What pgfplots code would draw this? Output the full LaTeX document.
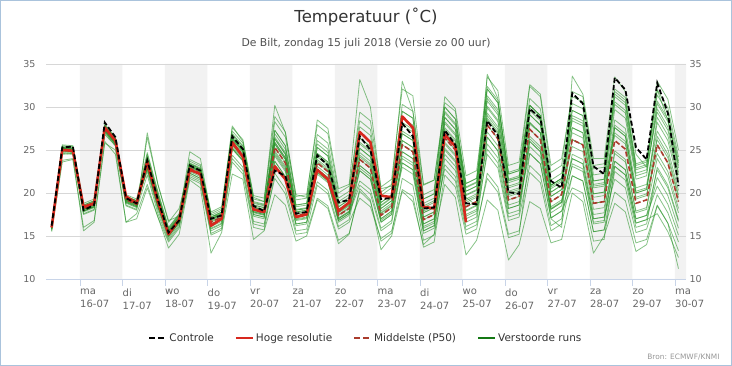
\documentclass[border=0pt]{standalone}
\usepackage{fontspec}
\setmainfont{DejaVu Sans}
\usepackage{pgfplots}
\usepackage{pgfplotstable}
\pgfplotsset{compat=1.18}
\definecolor{framecol}{RGB}{170,195,220}
\definecolor{titlecol}{RGB}{51,51,51}
\definecolor{subcol}{RGB}{80,80,80}
\definecolor{labcol}{RGB}{102,102,102}
\definecolor{broncol}{RGB}{150,150,150}
\definecolor{gridcol}{RGB}{215,215,215}
\definecolor{axiscol}{RGB}{200,212,232}
\definecolor{bandcol}{RGB}{242,242,242}
\definecolor{ensgreen}{RGB}{35,145,35}
\definecolor{legendgreen}{RGB}{20,120,20}
\definecolor{hrescol}{RGB}{215,40,30}
\definecolor{medcol}{RGB}{170,60,45}
\pgfplotsset{
  ens/.style={color=ensgreen, line width=0.8pt, opacity=0.55, forget plot, mark=none, line join=round},
  frame/.style={at={(46pt,87pt)}, anchor=south west, scale only axis, width=640pt, height=215pt,
    xmin=0.2, xmax=15.26, ymin=10, ymax=35},
}
\pgfplotstableread{
x ctrl hres med e1 e2 e3 e4 e5 e6 e7 e8 e9 e10 e11 e12 e13 e14 e15 e16 e17 e18 e19 e20 e21 e22 e23 e24
0.333 16.2 16.0 16.0 16.2 15.7 16.1 15.9 16.3 15.8 16.0 16.1 15.9 16.2 15.8 16.0 16.0 16.1 15.8 15.6 16.0 15.5 16.1 15.9 16.0 15.8 16.1 16.0
0.583 25.3 25.0 25.1 25.4 24.8 25.2 25.0 25.6 24.6 25.1 25.3 24.9 25.5 24.7 25.2 25.0 25.3 24.9 23.8 24.5 23.6 25.3 25.0 25.2 24.9 25.2 25.1
0.833 25.4 24.9 25.0 25.3 24.7 25.1 24.9 25.5 24.5 25.0 25.2 24.8 25.4 24.6 25.1 24.9 25.2 24.8 24.0 24.6 23.9 25.2 24.9 25.1 24.8 25.1 25.0
1.083 18.0 18.4 18.2 18.6 17.9 18.3 18.1 18.8 17.6 18.2 18.4 18.0 18.6 17.8 18.3 18.1 18.5 17.9 16.0 17.5 15.6 18.4 18.1 18.3 17.9 18.3 18.2
1.333 18.6 18.8 18.7 19.1 18.4 18.8 18.6 19.3 18.1 18.7 18.9 18.5 19.1 18.3 18.8 18.6 19.0 18.4 16.8 18.0 16.6 18.9 18.6 18.8 18.4 18.8 18.7
1.583 28.2 27.6 27.5 28.0 27.0 27.7 27.3 27.8 27.2 27.6 27.5 27.8 27.7 27.4 27.2 27.5 27.9 27.1 26.0 26.8 25.8 27.6 27.3 27.7 27.4 27.5 27.6
1.833 26.5 26.1 26.0 26.5 25.5 26.2 25.8 26.3 25.7 26.1 26.0 26.3 26.2 25.9 25.7 26.0 26.4 25.6 24.5 25.5 25.0 26.1 25.8 26.2 25.9 26.0 26.1
2.083 19.4 19.6 19.2 19.8 18.6 19.4 19.0 19.6 18.9 19.3 19.2 19.6 19.5 19.1 18.9 19.2 19.6 18.8 16.6 18.5 16.6 19.3 19.0 19.5 19.1 19.2 19.3
2.333 18.8 18.8 18.7 19.3 18.1 18.9 18.5 19.1 18.4 18.8 18.7 19.1 19.0 18.6 18.4 18.7 19.1 18.3 17.0 18.0 17.6 18.8 18.5 19.0 18.6 18.7 18.8
2.583 23.8 23.6 23.5 24.7 22.1 24.1 22.9 23.9 23.7 23.1 24.5 22.5 23.5 24.1 23.3 23.9 22.9 26.5 20.6 27.0 21.0 24.0 23.0 23.7 22.8 24.3 23.3
2.833 19.2 19.0 19.0 20.2 17.6 19.6 18.4 19.4 19.2 18.6 20.0 18.0 19.0 19.6 18.8 19.4 18.4 21.0 17.2 21.0 17.2 19.5 18.5 19.2 18.3 19.8 18.8
3.083 15.4 15.2 15.3 16.0 14.5 15.6 15.0 15.5 15.4 15.1 15.9 14.7 15.3 15.7 15.2 15.5 15.0 16.6 14.3 16.8 13.6 15.6 15.0 15.4 14.9 15.8 15.2
3.333 16.8 16.9 16.9 17.6 16.1 17.2 16.6 17.1 17.0 16.7 17.5 16.3 16.9 17.3 16.8 17.1 16.6 18.2 15.9 17.3 15.2 17.2 16.6 17.0 16.5 17.4 16.8
3.583 23.2 22.7 22.9 23.9 21.7 23.1 22.7 23.4 23.3 22.3 23.7 22.5 23.1 22.7 23.5 22.1 22.9 23.2 21.9 24.8 21.5 23.1 22.7 23.4 22.3 23.0 23.2
3.833 22.6 22.2 22.3 23.3 21.1 22.5 22.1 22.8 22.7 21.7 23.1 21.9 22.5 22.1 22.9 21.5 22.3 22.6 21.3 24.0 20.6 22.5 22.1 22.8 21.7 22.4 22.6
4.083 17.0 16.2 16.6 17.8 15.1 16.8 16.4 17.2 17.1 15.8 17.6 16.1 16.9 16.4 17.4 15.6 16.6 17.0 15.3 17.5 13.0 16.9 16.3 17.2 15.9 16.7 17.0
4.333 17.4 17.0 17.2 18.4 15.7 17.4 17.0 17.8 17.7 16.4 18.2 16.7 17.5 17.0 18.0 16.2 17.2 17.6 15.9 17.2 15.4 17.5 16.9 17.8 16.5 17.3 17.6
4.583 26.6 25.9 25.8 27.6 23.6 25.4 26.2 26.9 26.0 24.4 26.8 25.8 26.4 25.1 27.2 25.2 26.3 25.6 24.0 27.8 22.2 26.4 25.2 26.2 25.6 25.7 26.6
4.833 25.1 24.2 24.4 26.2 22.2 24.0 24.8 25.5 24.6 23.0 25.4 24.4 25.0 23.7 25.8 23.8 24.9 24.2 22.6 26.0 21.6 25.0 23.8 24.8 24.2 24.3 25.2
5.083 18.5 18.1 18.0 19.7 16.0 17.7 18.3 19.0 18.2 16.7 18.9 18.0 18.6 17.3 19.3 17.5 18.4 17.8 16.4 19.5 14.6 18.6 17.5 18.3 17.8 17.9 18.8
5.333 17.9 17.8 17.7 19.4 15.7 17.4 18.0 18.7 17.9 16.4 18.6 17.7 18.3 17.0 19.0 17.2 18.1 17.5 16.1 19.0 15.6 18.3 17.2 18.0 17.5 17.6 18.5
5.583 22.6 23.1 25.3 28.9 22.3 23.7 26.9 26.3 25.3 21.7 25.9 26.3 27.3 24.7 28.3 25.7 24.3 27.3 23.3 30.2 19.8 26.5 24.5 25.7 23.7 25.9 24.9
5.833 22.0 21.6 23.5 27.1 20.5 21.9 25.1 24.5 23.5 19.9 24.1 24.5 25.5 22.9 26.5 23.9 22.5 25.5 21.5 27.0 18.6 24.7 22.7 23.9 21.9 24.1 23.1
6.083 17.6 17.2 17.4 19.6 15.6 16.4 18.4 18.0 17.4 15.2 17.8 18.0 18.6 17.0 19.2 17.6 16.8 18.6 16.2 19.8 14.4 18.1 16.9 17.6 16.4 17.8 17.2
6.333 17.8 17.5 17.6 19.8 15.8 16.6 18.6 18.2 17.6 15.4 18.0 18.2 18.8 17.2 19.4 17.8 17.0 18.8 16.4 19.5 15.0 18.3 17.1 17.8 16.6 18.0 17.4
6.583 24.4 22.7 23.5 27.9 20.9 21.3 26.1 23.5 24.2 19.4 22.8 25.3 24.6 23.9 25.7 22.4 24.6 26.8 22.4 28.5 19.2 24.4 22.2 25.3 22.8 23.1 23.7
6.833 23.2 21.6 22.5 26.9 19.9 20.3 25.1 22.5 23.2 18.5 21.8 24.3 23.6 22.9 24.7 21.4 23.6 25.8 21.4 27.5 18.2 23.4 21.2 24.3 21.8 22.1 22.7
7.083 18.9 17.9 17.4 20.0 15.8 16.1 19.0 17.4 17.8 14.5 17.0 18.4 18.1 17.7 18.7 16.8 18.1 19.4 16.8 20.5 14.1 17.9 16.6 18.4 17.0 17.1 17.5
7.333 19.2 18.9 18.2 20.8 16.6 16.9 19.8 18.2 18.6 15.3 17.8 19.2 18.9 18.5 19.5 17.6 18.9 20.2 17.6 21.0 15.2 18.7 17.4 19.2 17.8 17.9 18.3
7.583 26.6 27.1 23.9 28.4 19.4 22.6 27.7 22.6 25.9 20.2 24.4 24.7 26.4 23.2 25.2 20.9 26.4 29.4 23.9 33.2 20.5 25.7 22.9 25.2 21.4 24.2 23.2
7.833 25.0 25.9 22.9 27.4 18.4 21.6 26.7 21.6 24.9 19.0 23.4 23.7 25.4 22.2 24.2 19.9 25.4 28.4 22.9 30.0 19.2 24.7 21.9 24.2 20.4 23.2 22.2
8.083 19.3 19.7 17.4 20.1 14.7 16.6 19.7 16.6 18.6 14.4 17.7 17.9 18.9 17.0 18.2 15.6 18.9 20.7 17.4 20.5 13.4 18.5 16.8 18.2 15.9 17.6 17.0
8.333 19.4 19.5 18.3 21.0 15.6 17.5 20.6 17.5 19.5 15.3 18.6 18.8 19.8 17.9 19.1 16.5 19.8 21.6 18.3 20.8 15.0 19.4 17.7 19.1 16.8 18.5 17.9
8.583 28.1 28.9 25.6 29.5 20.4 26.1 28.2 23.0 29.5 21.7 26.9 24.3 30.3 23.5 25.6 23.5 26.9 32.1 24.8 33.0 20.2 27.9 24.8 27.2 24.0 28.7 26.1
8.833 26.6 27.6 24.8 28.7 19.6 25.3 27.4 22.2 28.7 20.9 26.1 23.5 29.5 22.7 24.8 22.7 26.1 31.3 24.0 29.5 19.0 27.1 24.0 26.4 23.2 27.9 25.3
9.083 18.2 18.4 16.9 19.3 13.7 17.2 18.5 15.3 19.3 14.5 17.7 16.1 19.8 15.6 16.9 15.6 17.7 20.9 16.4 21.0 14.0 18.3 16.4 17.9 15.9 18.8 17.2
9.333 18.3 18.2 17.5 19.9 14.3 17.8 19.1 15.9 19.9 15.1 18.3 16.7 20.4 16.2 17.5 16.2 18.3 21.5 17.0 21.5 15.2 18.9 17.0 18.5 16.5 19.4 17.8
9.583 27.3 26.8 26.4 29.3 22.1 28.3 27.6 23.3 31.2 24.0 27.1 24.5 30.0 26.4 25.2 25.9 28.8 30.0 22.8 30.5 21.0 28.8 25.0 27.4 25.7 28.1 29.5
9.833 25.6 25.4 25.0 27.9 20.7 26.9 26.2 21.9 29.8 22.6 25.7 23.1 28.6 25.0 23.8 24.5 27.4 28.6 21.4 29.5 19.5 27.4 23.6 26.0 24.3 26.7 28.1
10.083 18.8 16.6 18.4 20.6 15.2 19.8 19.3 16.1 22.0 16.6 18.9 17.0 21.1 18.4 17.5 18.0 20.2 21.1 15.7 19.5 12.8 20.2 17.3 19.1 17.9 19.7 20.7
10.333 18.7 nan 19.0 21.2 15.8 20.4 19.9 16.7 22.6 17.2 19.5 17.6 21.7 19.0 18.1 18.6 20.8 21.7 16.3 18.5 14.5 20.8 17.9 19.7 18.5 20.3 21.3
10.583 28.4 nan 27.9 32.1 22.3 31.3 27.9 25.1 32.1 26.5 27.1 24.5 33.5 29.3 28.5 28.7 30.1 30.7 21.7 33.8 19.2 31.0 26.5 29.9 25.7 29.0 32.4
10.833 26.7 nan 26.3 30.5 20.7 29.7 26.3 23.5 30.5 24.9 25.5 22.9 31.9 27.7 26.9 27.1 28.5 29.1 20.1 31.0 18.0 29.4 24.9 28.3 24.1 27.4 30.8
11.083 20.1 nan 19.2 22.2 15.2 21.6 19.2 17.2 22.2 18.2 18.6 16.8 23.2 20.2 19.6 19.8 20.8 21.2 14.8 21.5 12.2 21.4 18.2 20.6 17.6 20.0 22.4
11.333 19.9 nan 19.6 22.6 15.6 22.0 19.6 17.6 22.6 18.6 19.0 17.2 23.6 20.6 20.0 20.2 21.2 21.6 15.2 21.8 14.0 21.8 18.6 21.0 18.0 20.4 22.8
11.583 29.8 nan 27.4 32.4 22.4 30.2 26.0 26.0 30.2 27.4 24.6 23.2 32.6 28.2 29.1 26.6 28.2 29.6 24.6 28.0 19.0 31.0 25.4 29.9 26.3 29.1 30.2
11.833 28.7 nan 26.2 31.2 21.2 29.0 24.8 24.8 29.0 26.2 23.4 22.0 31.5 27.0 27.9 25.4 27.0 28.4 23.4 27.0 18.2 29.8 24.2 28.7 25.1 27.9 29.0
12.083 21.4 nan 19.0 22.4 15.6 20.9 18.1 18.1 20.9 19.0 17.1 16.2 23.2 19.6 20.1 18.4 19.6 20.5 17.1 17.0 14.2 21.5 17.7 20.7 18.2 20.1 20.9
12.333 20.6 nan 19.8 23.2 16.4 21.7 18.9 18.9 21.7 19.8 17.9 17.0 24.0 20.4 20.9 19.2 20.4 21.3 17.9 16.0 14.6 22.3 18.5 21.5 19.0 20.9 21.7
12.583 31.6 nan 26.2 31.8 22.0 27.6 24.0 26.2 28.4 27.6 22.0 23.4 31.2 25.4 29.0 24.0 26.2 29.6 20.6 33.6 20.0 30.4 24.5 29.6 23.1 28.7 27.0
12.833 30.4 nan 25.6 31.2 21.4 27.0 23.4 25.6 27.8 27.0 21.4 22.8 30.6 24.8 28.4 23.4 25.6 29.0 20.0 31.5 19.0 29.8 23.9 29.0 22.5 28.1 26.4
13.083 23.1 nan 18.8 23.2 15.5 19.9 17.0 18.8 20.6 19.9 15.5 16.6 22.8 18.1 21.0 17.0 18.8 21.4 14.4 24.0 13.0 22.1 17.5 21.4 16.4 20.8 19.5
13.333 22.2 nan 19.0 23.4 15.7 20.1 17.2 19.0 20.8 20.1 15.7 16.8 23.0 18.3 21.2 17.2 19.0 21.6 14.6 24.0 15.0 22.3 17.7 21.6 16.6 21.0 19.7
13.583 33.4 nan 26.1 32.1 20.1 26.7 23.1 27.6 29.7 28.5 22.5 24.6 30.6 23.7 27.0 21.6 27.6 31.5 23.1 33.5 18.8 31.2 24.9 30.3 23.7 31.8 27.9
13.833 32.0 nan 25.1 31.1 19.1 25.7 22.1 26.6 28.7 27.5 21.5 23.6 29.6 22.7 26.0 20.6 26.6 30.5 22.1 31.8 17.8 30.2 23.9 29.3 22.7 30.8 26.9
14.083 25.3 nan 18.8 23.4 14.2 19.3 16.5 20.0 21.6 20.6 16.0 17.7 22.3 17.0 19.5 15.4 20.0 22.9 16.5 24.5 13.2 22.7 17.9 22.0 17.0 23.2 20.2
14.333 23.9 nan 19.2 23.8 14.6 19.7 16.9 20.4 22.0 21.0 16.4 18.1 22.7 17.4 19.9 15.8 20.4 23.3 16.9 23.0 14.0 23.1 18.3 22.4 17.4 23.6 20.6
14.583 32.8 nan 25.6 31.4 18.6 25.6 21.8 28.8 30.4 27.2 23.0 26.6 29.4 20.8 24.6 19.8 28.2 33.0 17.6 32.0 18.5 30.7 24.0 29.8 22.7 32.0 26.2
14.833 29.3 nan 23.5 29.3 16.5 23.5 19.7 26.7 28.3 25.1 20.9 24.5 27.3 18.7 22.5 17.7 26.1 30.9 15.5 28.5 16.5 28.6 21.9 27.7 20.6 29.9 24.1
15.083 20.8 nan 19.0 23.7 13.3 19.0 15.9 21.6 22.9 20.3 16.9 19.8 22.1 15.1 18.2 14.3 21.1 25.0 12.5 23.5 11.2 23.2 17.7 22.4 16.7 24.2 19.5
}\tempdata
\begin{document}
\begin{tikzpicture}
\useasboundingbox (0pt,0pt) rectangle (732pt,366pt);
\draw[framecol, line width=1pt] (0.5pt,0.5pt) rectangle (731.5pt,365.5pt);
\node[font=\fontsize{16.5}{18}\selectfont, text=titlecol] at (366pt,349pt) {Temperatuur (˚C)};
\node[font=\fontsize{10.8}{13}\selectfont, text=subcol] at (366pt,322.7pt) {De Bilt, zondag 15 juli 2018 (Versie zo 00 uur)};
\node[font=\fontsize{7.4}{9}\selectfont, text=broncol, anchor=east] at (723pt,9pt) {Bron: ECMWF/KNMI};
% background day bands
\begin{axis}[frame, hide axis]
\addplot[fill=bandcol, draw=none, forget plot] coordinates {
(1,10)(1,35)(2,35)(2,10)(3,10)(3,35)(4,35)(4,10)(5,10)(5,35)(6,35)(6,10)(7,10)(7,35)(8,35)(8,10)
(9,10)(9,35)(10,35)(10,10)(11,10)(11,35)(12,35)(12,10)(13,10)(13,35)(14,35)(14,10)(15,10)(15,35)(15.26,35)(15.26,10)};
\end{axis}
% main axis
\begin{axis}[
  frame,
  xtick={1,2,...,15},
  xticklabels={{ma\\16-07},{di\\17-07},{wo\\18-07},{do\\19-07},{vr\\20-07},{za\\21-07},{zo\\22-07},{ma\\23-07},{di\\24-07},{wo\\25-07},{do\\26-07},{vr\\27-07},{za\\28-07},{zo\\29-07},{ma\\30-07}},
  xticklabel style={align=left, anchor=north west, font=\fontsize{10}{13}\selectfont, text=labcol, inner sep=0pt, yshift=-3pt},
  ytick={10,15,...,35},
  yticklabel style={font=\fontsize{9.5}{11}\selectfont, text=labcol},
  /pgf/number format/assume math mode=true,
  ymajorgrids, grid style={draw=gridcol, line width=0.6pt},
  axis x line*=bottom, axis y line*=left,
  x axis line style={draw=axiscol, line width=0.8pt, -},
  y axis line style={draw=none},
  ytick style={draw=none},
  xtick style={draw=axiscol, line width=0.8pt},
  tick align=outside, major tick length=7pt,
  legend style={at={(0.5,-0.274)}, anchor=center, draw=none, fill=none, legend columns=4,
    font=\fontsize{10.5}{12}\selectfont, text=titlecol,
    /tikz/every even column/.append style={column sep=19pt}},
  legend cell align=left,
]
\addplot[ens] table[x=x, y=e1] {\tempdata};
\addplot[ens] table[x=x, y=e2] {\tempdata};
\addplot[ens] table[x=x, y=e3] {\tempdata};
\addplot[ens] table[x=x, y=e4] {\tempdata};
\addplot[ens] table[x=x, y=e5] {\tempdata};
\addplot[ens] table[x=x, y=e6] {\tempdata};
\addplot[ens] table[x=x, y=e7] {\tempdata};
\addplot[ens] table[x=x, y=e8] {\tempdata};
\addplot[ens] table[x=x, y=e9] {\tempdata};
\addplot[ens] table[x=x, y=e10] {\tempdata};
\addplot[ens] table[x=x, y=e11] {\tempdata};
\addplot[ens] table[x=x, y=e12] {\tempdata};
\addplot[ens] table[x=x, y=e13] {\tempdata};
\addplot[ens] table[x=x, y=e14] {\tempdata};
\addplot[ens] table[x=x, y=e15] {\tempdata};
\addplot[ens] table[x=x, y=e16] {\tempdata};
\addplot[ens] table[x=x, y=e17] {\tempdata};
\addplot[ens] table[x=x, y=e18] {\tempdata};
\addplot[ens] table[x=x, y=e19] {\tempdata};
\addplot[ens] table[x=x, y=e20] {\tempdata};
\addplot[ens] table[x=x, y=e21] {\tempdata};
\addplot[ens] table[x=x, y=e22] {\tempdata};
\addplot[ens] table[x=x, y=e23] {\tempdata};
\addplot[ens] table[x=x, y=e24] {\tempdata};
\addplot[color=medcol, line width=1.6pt, dash pattern=on 5pt off 2.5pt, forget plot, mark=none] table[x=x, y=med] {\tempdata};
\addplot[color=hrescol, line width=2.6pt, forget plot, mark=none, line join=round] table[x=x, y=hres] {\tempdata};
\addplot[color=black, line width=1.8pt, dash pattern=on 5pt off 2.5pt, forget plot, mark=none] table[x=x, y=ctrl] {\tempdata};
\addlegendimage{black, line width=1.8pt, dash pattern=on 6pt off 3pt}
\addlegendentry{Controle}
\addlegendimage{hrescol, line width=2pt}
\addlegendentry{Hoge resolutie}
\addlegendimage{medcol, line width=1.8pt, dash pattern=on 6pt off 3pt}
\addlegendentry{Middelste (P50)}
\addlegendimage{legendgreen, line width=2pt}
\addlegendentry{Verstoorde runs}
\end{axis}
% right-hand labels
\begin{axis}[
  frame,
  hide x axis, axis y line*=right,
  y axis line style={draw=none}, ytick style={draw=none},
  ytick={10,15,...,35},
  yticklabel style={font=\fontsize{9.5}{11}\selectfont, text=labcol},
  /pgf/number format/assume math mode=true,
]
\addplot[draw=none, forget plot] coordinates {(1,20)};
\end{axis}
\end{tikzpicture}
\end{document}
